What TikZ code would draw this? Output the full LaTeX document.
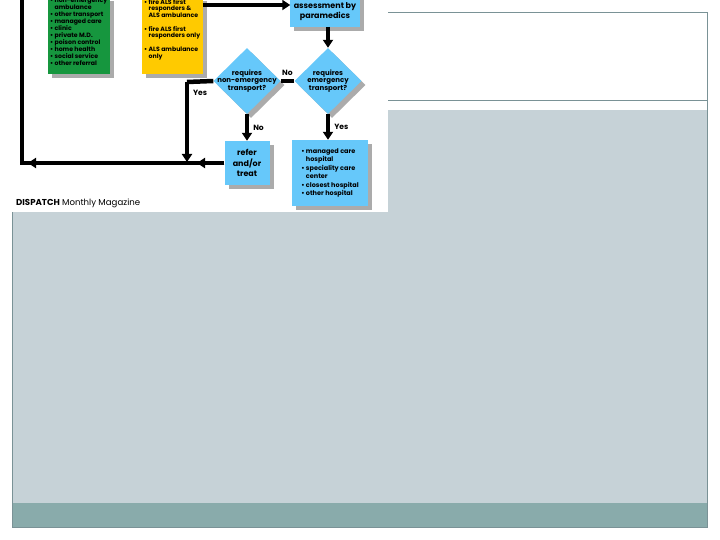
\documentclass[tikz,border=0pt]{standalone}
\usepackage{fontspec}
\setmainfont{Poppins}
\usepackage{tikz}
\usetikzlibrary{shapes.geometric,arrows.meta,positioning,shadows}

\definecolor{chartgreen}{RGB}{22,150,62}
\definecolor{chartyellow}{RGB}{255,202,0}
\definecolor{chartblue}{RGB}{102,200,250}
\definecolor{slidegray}{RGB}{198,210,215}
\definecolor{slideteal}{RGB}{137,171,171}
\definecolor{slideline}{RGB}{122,146,150}

\newcommand{\bp}{\textbullet\ }
\newcommand{\cont}{\phantom{\textbullet\ }}

\begin{document}
\begin{tikzpicture}[x=1pt,y=-1pt]

\tikzset{
  boxshadow/.style={drop shadow={shadow xshift=4pt, shadow yshift=-4pt,
                  fill=black!55, opacity=0.6}},
  greenbox/.style={rectangle, fill=chartgreen, boxshadow, inner sep=2pt,
                  font=\fontsize{6.2}{7}\selectfont\bfseries},
  yellowbox/.style={rectangle, fill=chartyellow, boxshadow, inner sep=2pt,
                  font=\fontsize{6.2}{6.75}\selectfont\bfseries},
  bluebox/.style={rectangle, fill=chartblue, boxshadow, align=center,
                  font=\fontsize{8}{10.5}\selectfont\bfseries},
  question/.style={diamond, fill=chartblue, boxshadow, align=center,
                  minimum width=67pt, minimum height=66pt, inner sep=-9pt,
                  font=\fontsize{7}{7.8}\selectfont\bfseries},
  answer/.style={font=\fontsize{7.6}{8}\selectfont\bfseries, inner sep=1pt},
  flowline/.style={black, line width=4.5pt},
  flow/.style={flowline, -{Triangle[length=8pt, width=10pt]}},
  frameline/.style={slideline, line width=0.8pt}
}

\useasboundingbox (0,0) rectangle (720,540);

% Slide
\fill[slidegray] (12,110) rectangle (707,503);
\fill[slideteal] (12,503) rectangle (707,527);
\draw[frameline] (12,12) rectangle (707,527);
\draw[frameline] (12,100) -- (707,100);

% Picture
\fill[white] (0,0) rectangle (388,212);
\begin{scope}
\clip (0,0) rectangle (388,212);

% Top row
\node[greenbox, anchor=north west] (green) at (48,-3)
  {\parbox[t][73pt][t]{58pt}{\bp non-emergency\\\cont ambulance\\\bp other transport\\\bp managed care\\\bp clinic\\\bp private M.D.\\\bp poison control\\\bp home health\\\bp social service\\\bp other referral}};
\node[yellowbox, anchor=north west] (yel) at (142,-3)
  {\parbox[t][73pt][t]{57pt}{\bp fire ALS first\\\cont responders \&\\\cont ALS ambulance\\[6.75pt]\bp fire ALS first\\\cont responders only\\[6.75pt]\bp ALS ambulance\\\cont only}};
\node[bluebox, anchor=south, minimum width=66pt, inner ysep=6pt] (assess) at (325,27)
  {assessment by\\paramedics};

% Questions
\node[question] (emerg) at (328,81) {requires\\emergency\\transport?};
\node[question] (nonemerg) at (247,81) {requires\\non-emergency\\transport?};

% Outcomes
\node[bluebox, minimum width=45pt, minimum height=44pt] (refer) at (247,163)
  {refer\\and/or\\treat};
\node[bluebox, minimum width=76pt, minimum height=66pt, align=left,
      font=\fontsize{6.5}{8.5}\selectfont\bfseries] (hosp) at (330,173)
  {\bp managed care\\\cont hospital\\\bp speciality care\\\cont center\\\bp closest hospital\\\bp other hospital};

% Lines
\coordinate (feed) at ([yshift=-8pt]yel.north east);
\coordinate (yescorner) at (187,82);
\coordinate (merge) at (187,163);
\coordinate (loopcorner) at (22,163);
\coordinate (looptop) at (22,-10);

\draw[flow] (feed) -- (feed -| assess.west);
\draw[flow] (assess.south -| emerg.north) -- (emerg.north);
\draw[flowline] (emerg.west) -- node[answer, above=2pt] (lblno) {No} (nonemerg.east);
\draw[flow] (nonemerg.south) -- node[answer, right=3pt] (lblnotreat) {No} (refer.north);
\draw[flow] (emerg.south) -- node[answer, right=3pt] (lblyes) {Yes} (emerg.south |- hosp.north);
\draw[flowline] (nonemerg.west) -- node[answer, below=5pt] (lblyesnon) {Yes} (yescorner);
\draw[flow, shorten >=1pt] (yescorner) -- (merge);
\draw[flowline] (refer.west) -- (merge) -- (loopcorner) -- (looptop);
\draw[flow, shorten >=10pt] (refer.west) -- (merge);
\draw[flow, shorten >=6pt] (merge) -- (loopcorner);

% Source
\node[anchor=base west, font=\fontsize{8.6}{10}\selectfont, inner sep=0pt] (source) at (16,206)
  {\textbf{DISPATCH} Monthly Magazine};
\end{scope}

\end{tikzpicture}
\end{document}
